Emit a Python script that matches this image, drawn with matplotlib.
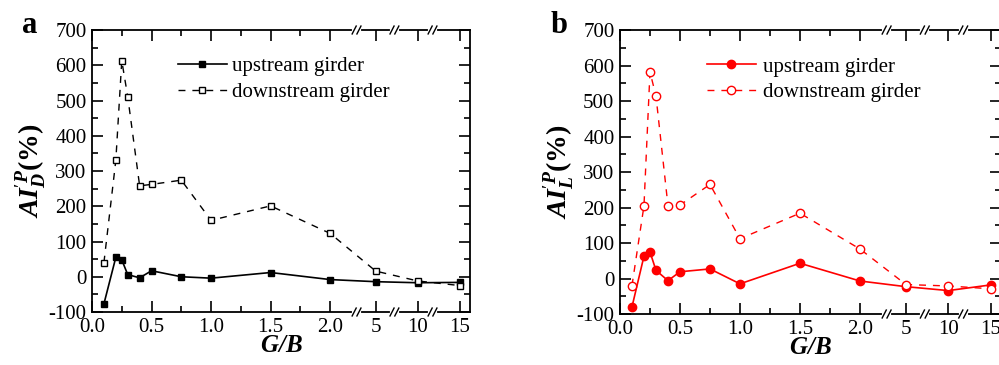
import numpy as np
import matplotlib
matplotlib.use('Agg')
import matplotlib.pyplot as plt
from matplotlib.ticker import MultipleLocator

plt.rcParams['font.family'] = ['Liberation Serif', 'DejaVu Serif']
plt.rcParams['axes.unicode_minus'] = False
plt.rcParams['mathtext.fontset'] = 'custom'
plt.rcParams['mathtext.rm'] = 'Liberation Serif'
plt.rcParams['mathtext.it'] = 'Liberation Serif:italic'
plt.rcParams['mathtext.bf'] = 'Liberation Serif:bold'
plt.rcParams['mathtext.bfit'] = 'Liberation Serif:italic:bold'

# G/B ratios
gb = [0.1, 0.2, 0.25, 0.3, 0.4, 0.5, 0.75, 1.0, 1.5, 2.0, 5, 10, 15]

# panel a: AI'_D (%)
up_d = [-77, 55, 48, 6, -3, 17, 0, -4, 12, -8, -14, -17, -16]
down_d = [40, 330, 613, 511, 258, 262, 274, 160, 201, 123, 16, -12, -25]

# panel b: AI'_L (%)
up_l = [-80, 63, 75, 23, -6, 19, 27, -15, 43, -7, -23, -34, -18]
down_l = [-20, 205, 582, 514, 205, 207, 265, 112, 184, 83, -17, -21, -29]

tick_vals = [0.0, 0.5, 1.0, 1.5, 2.0, 5, 10, 15]
tick_labels = ['0.0', '0.5', '1.0', '1.5', '2.0', '5', '10', '15']
breaks = [2.222, 2.54, 2.86]


def xmap(x):
    # broken axis: linear up to 2.0, compressed above
    x = np.asarray(x, dtype=float)
    return np.where(x <= 2.0, x, 2.383 + (x - 5) * 0.0707)


def draw_break(ax, u):
    trans = ax.get_xaxis_transform()
    for y in (0, 1):
        ax.plot([u - 0.022, u + 0.022], [y, y], color='white', lw=3,
                transform=trans, clip_on=False, zorder=5)
        for off in (-0.02, 0.02):
            ax.plot([u + off - 0.017, u + off + 0.017], [y - 0.014, y + 0.014],
                    color='k', lw=1, transform=trans, clip_on=False, zorder=6)


def setup(ax, ylabel):
    ax.set_xlim(0, 3.175)
    ax.set_ylim(-100, 700)
    ax.set_xticks(xmap(tick_vals), tick_labels)
    ax.set_xticks([0.25, 0.75, 1.25, 1.75], minor=True)
    ax.yaxis.set_major_locator(MultipleLocator(100))
    ax.yaxis.set_minor_locator(MultipleLocator(50))
    ax.tick_params(which='both', direction='in', top=True, right=True,
                   labelsize=15, width=1.2)
    ax.tick_params(which='major', length=8, pad=4)
    ax.tick_params(which='minor', length=4)
    for s in ax.spines.values():
        s.set_linewidth(1.3)
    ax.set_xlabel(r'$\mathbfit{G/B}$', fontsize=18, labelpad=-1)
    ax.set_ylabel(ylabel, fontsize=20, labelpad=0)
    for u in breaks:
        draw_break(ax, u)


fig = plt.figure(figsize=(9.99, 3.65), dpi=100)

ax1 = fig.add_axes([0.0921, 0.1452, 0.3784, 0.7726])
ax1.plot(xmap(gb), up_d, '-', color='k', lw=1.2, marker='s', ms=5,
         mfc='k', mec='k', label='upstream girder')
ax1.plot(xmap(gb), down_d, '--', color='k', lw=1.0, dashes=(5, 5), marker='s',
         ms=5, mfc='white', mec='k', mew=1, label='downstream girder')
setup(ax1, r'$\mathbfit{AI}^{\prime \mathbfit{P}}_{\mathbfit{D}}\mathbf{(\%)}$')
ax1.legend(loc='upper left', bbox_to_anchor=(0.227, 0.905), frameon=False,
           fontsize=15, borderpad=0, borderaxespad=0, handlelength=2.35,
           handletextpad=0.25, labelspacing=0.3)

ax2 = fig.add_axes([0.6206, 0.1397, 0.3814, 0.778])
ax2.plot(xmap(gb), up_l, '-', color='red', lw=1.2, marker='o', ms=6,
         mfc='red', mec='red', label='upstream girder')
ax2.plot(xmap(gb), down_l, '--', color='red', lw=1.0, dashes=(5, 5), marker='o',
         ms=6, mfc='white', mec='red', mew=1, label='downstream girder')
setup(ax2, r'$\mathbfit{AI}^{\prime \mathbfit{P}}_{\mathbfit{L}}\mathbf{(\%)}$')
ax2.legend(loc='upper left', bbox_to_anchor=(0.228, 0.905), frameon=False,
           fontsize=15, borderpad=0, borderaxespad=0, handlelength=2.35,
           handletextpad=0.35, labelspacing=0.3)

fig.text(0.022, 0.93, 'a', fontsize=22, fontweight='bold', ha='left', va='center')
fig.text(0.551, 0.93, 'b', fontsize=22, fontweight='bold', ha='left', va='center')

fig.savefig('out.png', dpi=100)
